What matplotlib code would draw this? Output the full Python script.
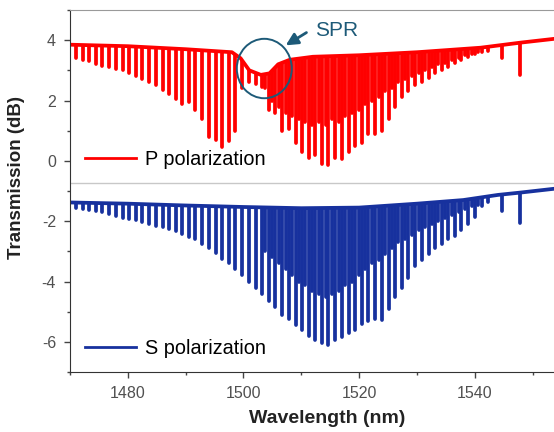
import numpy as np
import matplotlib
matplotlib.use("Agg")
import matplotlib.pyplot as plt
from matplotlib.patches import Polygon, Ellipse
from matplotlib.lines import Line2D

plt.rcParams['font.family'] = ['Liberation Sans', 'DejaVu Sans']
plt.rcParams['axes.unicode_minus'] = False

# --- data ------------------------------------------------------------------
# main fringe comb (nm)
comb_wl = [1471.0, 1472.2, 1473.3, 1474.5, 1475.6, 1476.8, 1477.9, 1479.1, 1480.2, 1481.4,
           1482.5, 1483.7, 1484.8, 1486.0, 1487.1, 1488.3, 1489.4, 1490.6, 1491.7, 1492.9,
           1494.0, 1495.2, 1496.3, 1497.5, 1498.6, 1499.8, 1500.9, 1502.1, 1503.2, 1504.4,
           1505.5, 1506.7, 1507.8, 1509.0, 1510.1, 1511.3, 1512.4, 1513.6, 1514.7, 1515.9,
           1517.0, 1518.2, 1519.3, 1520.5, 1521.6, 1522.8, 1523.9, 1525.1, 1526.2, 1527.4,
           1528.5, 1529.7, 1530.8, 1532.0, 1533.1, 1534.3, 1535.4, 1536.6, 1537.7, 1538.9,
           1540.0, 1541.2, 1542.3]
# interleaved shallower fringes in the dense part (nm)
comb2_wl = [1503.8, 1505.0, 1506.1, 1507.3, 1508.4, 1509.6, 1510.7, 1511.9, 1513.0, 1514.2,
            1515.3, 1516.5, 1517.6, 1518.8, 1519.9, 1521.1, 1522.2, 1523.4, 1524.5, 1525.7,
            1526.8, 1528.0, 1529.1, 1530.3, 1531.4, 1532.6, 1533.7, 1534.9, 1536.0, 1537.2,
            1538.3, 1539.5, 1540.6]
# two isolated dips past the comb (nm)
single_wl = [1544.7, 1547.8]

# P polarization (dB)
p_env_wl = [1470, 1480, 1490, 1498, 1499.5, 1501, 1503, 1504.5, 1506, 1508, 1512, 1520,
            1530, 1541, 1548, 1554]
p_env_db = [3.85, 3.8, 3.7, 3.6, 3.4, 3.0, 2.85, 2.9, 3.2, 3.35, 3.45, 3.5, 3.6, 3.75, 3.92, 4.05]
p_comb_min = [3.4, 3.35, 3.3, 3.2, 3.15, 3.1, 3.05, 3.0, 2.9, 2.8,
              2.7, 2.6, 2.5, 2.35, 2.2, 2.05, 1.9, 1.95, 1.7, 1.4,
              0.8, 0.7, 0.45, 0.65, 1.0, 2.4, 2.6, 2.55, 2.45, 1.7,
              1.6, 1.0, 1.05, 0.6, 0.3, 0.1, 0.2, -0.1, -0.15, 0.1,
              0.05, 0.3, 0.5, 0.6, 0.9, 0.9, 1.0, 1.4, 1.8, 2.1,
              2.3, 2.5, 2.6, 2.75, 2.9, 3.0, 3.1, 3.25, 3.35, 3.45,
              3.55, 3.6, 3.65]
p_comb2_min = [2.4, 2.0, 1.8, 1.6, 1.5, 1.4, 1.3, 1.2, 1.3, 1.2,
               1.4, 1.3, 1.5, 1.6, 1.7, 1.9, 2.0, 2.1, 2.3, 2.4,
               2.6, 2.7, 2.8, 2.9, 3.0, 3.1, 3.2, 3.25, 3.35, 3.4,
               3.5, 3.55, 3.6]
p_single_min = [3.4, 2.85]

# S polarization (dB)
s_env_wl = [1470, 1480, 1490, 1500, 1510, 1520, 1530, 1538, 1544, 1548, 1554]
s_env_db = [-1.38, -1.42, -1.48, -1.53, -1.57, -1.55, -1.42, -1.3, -1.13, -1.05, -0.92]
s_comb_min = [-1.55, -1.6, -1.62, -1.65, -1.7, -1.75, -1.82, -1.88, -1.92, -1.97,
              -2.02, -2.08, -2.15, -2.2, -2.25, -2.33, -2.42, -2.52, -2.6, -2.75,
              -2.9, -3.05, -3.25, -3.4, -3.6, -3.8, -4.0, -4.2, -4.4, -4.65,
              -4.85, -5.1, -5.25, -5.45, -5.6, -5.8, -5.95, -6.05, -6.1, -5.95,
              -5.85, -5.7, -5.6, -5.4, -5.3, -5.25, -5.26, -4.9, -4.5, -4.2,
              -3.9, -3.5, -3.3, -3.1, -2.9, -2.75, -2.6, -2.5, -2.3, -2.1,
              -1.85, -1.5, -1.35]
s_comb2_min = [-3.0, -3.2, -3.4, -3.6, -3.8, -4.0, -4.1, -4.3, -4.4, -4.5,
               -4.4, -4.3, -4.1, -4.0, -3.8, -3.6, -3.4, -3.3, -3.1, -2.9,
               -2.7, -2.6, -2.45, -2.3, -2.2, -2.1, -2.0, -1.9, -1.8, -1.7,
               -1.6, -1.5, -1.45]
s_single_min = [-1.67, -2.07]

x_ticks = [1480, 1500, 1520, 1540]
y_ticks = [-6, -4, -2, 0, 2, 4]

RED = '#ff0000'
BLUE = '#17319e'
NOTE = '#1d5a78'
LW = 2.7

fig = plt.figure(figsize=(5.54, 4.32), dpi=100)
ax = fig.add_axes([70 / 554, 1 - 372 / 432, 1 - 70 / 554, (372 - 10) / 432])
ax.set_xlim(1470, 1553.7)
ax.set_ylim(-7, 5)


def draw_spectrum(env_wl, env_db, dips_wl, dips_min, color, top, label):
    line, = ax.plot(env_wl, env_db, color=color, lw=LW, solid_capstyle='round', label=label)
    vl = ax.vlines(dips_wl, dips_min, top, colors=color, lw=LW)
    vl.set_capstyle('round')
    # keep the dips below the baseline curve
    verts = [(env_wl[0], -10)] + list(zip(env_wl, env_db)) + [(env_wl[-1], -10)]
    clip = Polygon(verts, closed=True, transform=ax.transData)
    vl.set_clip_path(clip)
    return line


p_line = draw_spectrum(p_env_wl, p_env_db,
                       comb_wl + comb2_wl + single_wl,
                       p_comb_min + p_comb2_min + p_single_min,
                       RED, 4.8, 'P polarization')
s_line = draw_spectrum(s_env_wl, s_env_db,
                       comb_wl + comb2_wl + single_wl,
                       s_comb_min + s_comb2_min + s_single_min,
                       BLUE, -0.5, 'S polarization')

ax.axhline(-0.75, color='#c8c8c8', lw=1, zorder=0)

# SPR annotation
ax.add_patch(Ellipse((1503.6, 3.06), 9.5, 1.97, fill=False, ec=NOTE, lw=1.4, zorder=5))
ax.annotate('', xy=(1506.9, 3.78), xytext=(1511.3, 4.3),
            arrowprops=dict(arrowstyle='-|>', color=NOTE, lw=2, mutation_scale=18))
ax.text(1512.4, 4.33, 'SPR', color=NOTE, fontsize=15, va='center', ha='left')

leg_kw = dict(loc='center left', frameon=False, fontsize=14.3, handlelength=2.55,
              handletextpad=0.45, borderpad=0, borderaxespad=0)
leg1 = ax.legend(handles=[Line2D([], [], color=RED, lw=2)], labels=['P polarization'],
                 bbox_to_anchor=(0.031, 0.586), **leg_kw)
ax.add_artist(leg1)
ax.legend(handles=[Line2D([], [], color=BLUE, lw=2)], labels=['S polarization'],
          bbox_to_anchor=(0.031, 0.066), **leg_kw)

ax.set_xticks(x_ticks)
ax.set_yticks(y_ticks)
ax.set_xticks([1470, 1490, 1510, 1530, 1550], minor=True)
ax.set_yticks([-7, -5, -3, -1, 1, 3, 5], minor=True)
ax.tick_params(which='both', direction='out', colors='#444444', labelcolor='#505050',
               labelsize=11.5, pad=6)
ax.tick_params(which='major', length=4, width=1)
ax.tick_params(which='minor', length=2.5, width=1)
ax.tick_params(axis='x', which='both', top=False)
ax.tick_params(axis='y', which='both', right=False)

ax.spines['right'].set_visible(False)
ax.spines['top'].set_color('#9a9a9a')
ax.spines['left'].set_color('#333333')
ax.spines['bottom'].set_color('#333333')

ax.set_xlabel('Wavelength (nm)', fontsize=14, fontweight='bold', color='#222222')
ax.set_ylabel('Transmission (dB)', fontsize=13.5, fontweight='bold', color='#222222')
ax.xaxis.set_label_coords(0.531, -0.105)
ax.yaxis.set_label_coords(-0.093, 0.536)

fig.savefig('out.png', dpi=100)
